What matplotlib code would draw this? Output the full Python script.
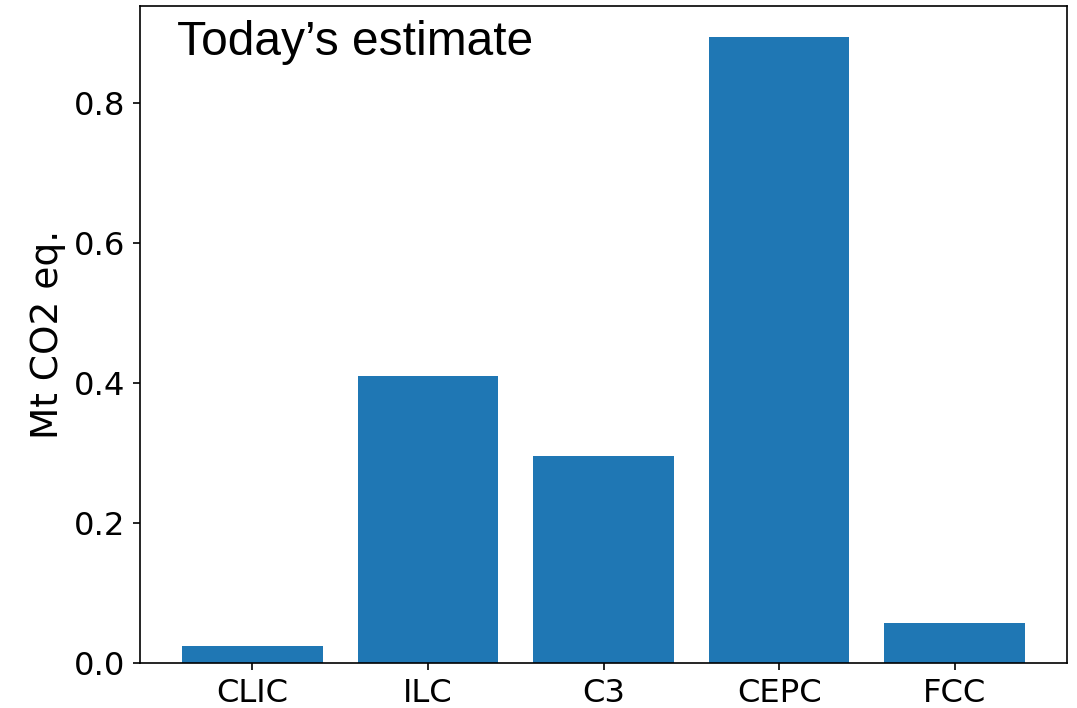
import matplotlib
matplotlib.use("Agg")
import matplotlib.pyplot as plt

categories = ["CLIC", "ILC", "C3", "CEPC", "FCC"]
values = [0.024, 0.410, 0.296, 0.894, 0.057]
ylabel = "Mt CO2 eq."
annotation = "Today\u2019s estimate"

fig = plt.figure(figsize=(1077/150, 708/150), dpi=150)
ax = fig.add_axes([140/1077, 45/708, 927/1077, 657.5/708])
ax.bar(categories, values, width=0.8, color="#1f77b4")
ax.set_ylabel(ylabel, fontsize=18)
ax.tick_params(axis="both", labelsize=15.5)
ax.set_yticks([0.0, 0.2, 0.4, 0.6, 0.8])
ax.text(0.04, 0.978, annotation, transform=ax.transAxes, ha="left", va="top",
        fontsize=23, family="Liberation Sans")
fig.savefig("out.png", dpi=150)
